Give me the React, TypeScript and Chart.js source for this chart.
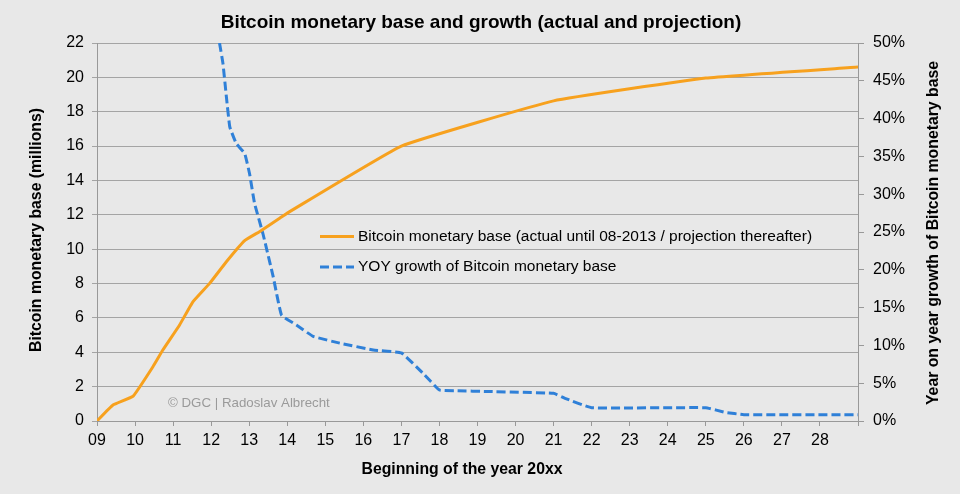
import React, { useEffect, useRef } from "react";
import { Chart, registerables } from "chart.js";

Chart.register(...registerables);

// Bitcoin monetary base (millions), actual until 08-2013 / projection thereafter
const baseYears = [2009.0, 2009.42, 2009.95, 2010.47, 2010.73, 2011.17, 2011.52, 2011.96, 2012.4, 2012.88, 2013.27, 2013.8, 2014.0, 2017.0, 2021.0, 2025.0, 2029.0];
const baseValues = [0, 0.93, 1.45, 3.16, 4.13, 5.59, 6.94, 8.01, 9.27, 10.5, 11.02, 11.8, 12.1, 16.0, 18.63, 19.96, 20.6];

// YOY growth of Bitcoin monetary base (%)
const growthYears = [2012.22, 2012.31, 2012.4, 2012.49, 2012.66, 2012.88, 2013.01, 2013.14, 2013.36, 2013.63, 2013.85, 2014.24, 2014.68, 2015.38, 2016.26, 2017.0, 2017.57, 2018.0, 2018.44, 2019.31, 2021.0, 2021.3, 2022.0, 2025.0, 2025.5, 2026.0, 2029.0];
const growthValues = [50, 47.3, 42.9, 38.9, 36.7, 35.4, 32.7, 28.8, 24.8, 19.1, 14.0, 12.7, 11.2, 10.3, 9.4, 9.0, 6.3, 4.1, 4.0, 3.9, 3.66, 3.0, 1.76, 1.76, 1.15, 0.84, 0.84];

const yearTicksMin = 2009;
const yearTicksMax = 2029;
const baseTickMax = 22;
const growthTickMax = 50;

const titleText = "Bitcoin monetary base and growth (actual and projection)";
const xTitle = "Beginning of the year 20xx";
const yTitle = "Bitcoin monetary base (millions)";
const y1Title = "Year on year growth of Bitcoin monetary base";
const seriesLabels = [
  "Bitcoin monetary base (actual until 08-2013 / projection thereafter)",
  "YOY growth of Bitcoin monetary base",
];
const watermark = "\u00A9 DGC | Radoslav Albrecht";

const FONT = "'Liberation Sans', Arial, sans-serif";

const decorPlugin = {
  id: "decor",
  beforeDraw(chart: any) {
    const { ctx, width, height } = chart;
    ctx.save();
    ctx.fillStyle = "#e8e8e8";
    ctx.fillRect(0, 0, width, height);
    ctx.restore();
  },
  afterDatasetsDraw(chart: any) {
    const { ctx, chartArea } = chart;
    ctx.save();
    // title
    ctx.fillStyle = "#000";
    ctx.font = `bold 19px ${FONT}`;
    ctx.textAlign = "center";
    ctx.textBaseline = "alphabetic";
    ctx.fillText(titleText, 481, 28);

    // x title
    ctx.font = `bold 15.8px ${FONT}`;
    ctx.textBaseline = "middle";
    ctx.fillText(xTitle, 462, 470);

    // y titles (both rotated -90)
    const midY = (chartArea.top + chartArea.bottom) / 2;
    ctx.save();
    ctx.translate(37, midY - 2);
    ctx.rotate(-Math.PI / 2);
    ctx.fillText(yTitle, 0, 0);
    ctx.restore();
    ctx.save();
    ctx.translate(934, midY + 1);
    ctx.rotate(-Math.PI / 2);
    ctx.fillText(y1Title, 0, 0);
    ctx.restore();

    // watermark
    ctx.font = `13.3px ${FONT}`;
    ctx.fillStyle = "#9a9a9a";
    ctx.textAlign = "left";
    ctx.fillText(watermark, 168, 403);

    // legend
    const ds = chart.data.datasets;
    const rows = [236.5, 267];
    ds.forEach((d: any, i: number) => {
      const y = rows[i];
      ctx.save();
      ctx.strokeStyle = d.borderColor;
      ctx.lineWidth = d.borderWidth;
      ctx.setLineDash(d.borderDash || []);
      ctx.beginPath();
      ctx.moveTo(320, y);
      ctx.lineTo(354, y);
      ctx.stroke();
      ctx.restore();
      ctx.fillStyle = "#000";
      ctx.font = `15.5px ${FONT}`;
      ctx.textAlign = "left";
      ctx.textBaseline = "middle";
      ctx.fillText(seriesLabels[i], 358, y);
    });
    ctx.restore();
  },
};

export default function App() {
  const ref = useRef<HTMLCanvasElement | null>(null);

  useEffect(() => {
    document.body.style.margin = "0";
    const canvas = ref.current;
    if (!canvas) return;
    const chart = new Chart(canvas, {
      type: "line",
      data: {
        datasets: [
          {
            label: seriesLabels[0],
            data: baseYears.map((x, i) => ({ x, y: baseValues[i] })),
            borderColor: "#f7a11e",
            borderWidth: 3,
            pointRadius: 0,
            tension: 0.1,
            yAxisID: "y",
            fill: false,
          },
          {
            label: seriesLabels[1],
            data: growthYears.map((x, i) => ({ x, y: growthValues[i] })),
            borderColor: "#2f80d8",
            borderWidth: 3,
            borderDash: [9, 4],
            pointRadius: 0,
            tension: 0.1,
            yAxisID: "y1",
            fill: false,
          },
        ],
      },
      options: {
        responsive: false,
        animation: false,
        devicePixelRatio: 1,
        layout: { padding: { top: 43, left: 0, right: 0, bottom: 0 } },
        plugins: {
          legend: { display: false },
          title: { display: false },
          tooltip: { enabled: false },
        },
        scales: {
          x: {
            type: "linear",
            min: yearTicksMin,
            max: yearTicksMax,
            ticks: {
              stepSize: 1,
              autoSkip: false,
              maxRotation: 0,
              color: "#000",
              font: { family: FONT, size: 16 },
              padding: 5,
              callback: (v: any) => (v >= yearTicksMax ? "" : String(v % 100).padStart(2, "0")),
            },
            grid: { drawOnChartArea: false, drawTicks: true, tickLength: 5, color: "#999" },
            border: { color: "#999", width: 1 },
            afterFit: (s: any) => {
              s.height = 73;
            },
          },
          y: {
            position: "left",
            min: 0,
            max: baseTickMax,
            ticks: {
              stepSize: 2,
              color: "#000",
              font: { family: FONT, size: 16 },
              padding: 8,
            },
            grid: { color: "#a4a4a4", tickLength: 5 },
            border: { color: "#999", width: 1 },
            afterFit: (s: any) => {
              s.width = 97;
            },
          },
          y1: {
            position: "right",
            min: 0,
            max: growthTickMax,
            ticks: {
              stepSize: 5,
              color: "#000",
              font: { family: FONT, size: 16 },
              padding: 9,
              callback: (v: any) => `${v}%`,
            },
            grid: { drawOnChartArea: false, tickLength: 6, color: "#999" },
            border: { color: "#999", width: 1 },
            afterFit: (s: any) => {
              s.width = 102;
            },
          },
        },
      },
      plugins: [decorPlugin],
    } as any);
    return () => chart.destroy();
  }, []);

  return (
    <div style={{ width: 960, height: 494 }}>
      <canvas ref={ref} width={960} height={494} style={{ display: "block" }} />
    </div>
  );
}
